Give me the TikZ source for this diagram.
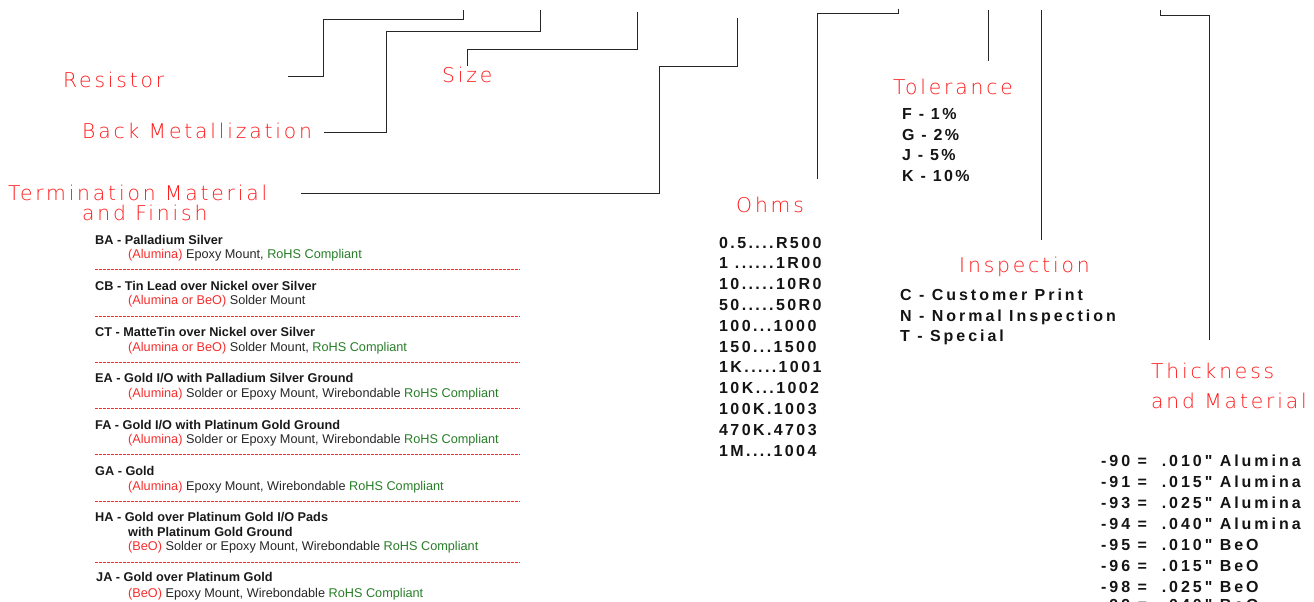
\documentclass[tikz,border=0pt]{standalone}
\usepackage{fontspec}
\setmainfont{Liberation Sans}
\newfontfamily\cadfont{DejaVu Sans ExtraLight}[LetterSpace=14]
\newfontfamily\boldsp{Liberation Sans}[LetterSpace=15]
\newfontfamily\boldwide{Liberation Sans}[LetterSpace=18.5]
\definecolor{cadred}{RGB}{255,25,25}
\definecolor{txtred}{RGB}{245,45,45}
\definecolor{rohs}{RGB}{40,125,40}
\tikzset{
  cad/.style={font=\cadfont\fontsize{20.3}{24}\selectfont, text=cadred, inner sep=0pt, anchor=base west},
  code/.style={font=\boldsp\bfseries\fontsize{16}{19}\selectfont, text=black!92, inner sep=0pt, anchor=base west},
  codew/.style={font=\boldwide\bfseries\fontsize{16}{19}\selectfont, text=black!92, inner sep=0pt, anchor=base west},
  hdr/.style={font=\bfseries\fontsize{12.7}{14}\selectfont, text=black!90, inner sep=0pt, anchor=base west},
  dsc/.style={font=\fontsize{12.7}{14}\selectfont, text=black!85, inner sep=0pt, anchor=base west},
  sep/.style={draw=txtred, line width=0.6pt, dash pattern=on 2.6pt off 1.4pt},
  lead/.style={draw=black!85, line width=0.9pt},
}
\newcommand{\al}[1]{\textcolor{txtred}{#1}}
\newcommand{\rh}[1]{\textcolor{rohs}{#1}}
\begin{document}
\begin{tikzpicture}[x=1pt,y=-1pt]
\useasboundingbox (0,0) rectangle (1314,602);
\clip (0,0) rectangle (1314,602);

% ---------- red CAD labels ----------
\node[cad] (resistor) at (63,87) {Resistor};
\node[cad] (backmet) at (82,138) {Back Metallization};
\node[cad] (size) at (442,82) {Size};
\node[cad] (term) at (8,200) {Termination Material};
\node[cad] (term2) at (82,220) {and Finish};
\node[cad] (tol) at (893,94) {Tolerance};
\node[cad] (ohms) at (736,212) {Ohms};
\node[cad] (insp) at (959,272) {Inspection};
\node[cad] (thick) at (1151,378) {Thickness};
\node[cad] (thick2) at (1151,408) {and Material};

% ---------- leader lines ----------
\coordinate (rA) at (288,76);  \coordinate (rZ) at (463,10);
\coordinate (bA) at (324,132); \coordinate (bZ) at (540,10);
\coordinate (sA) at (467,66);  \coordinate (sZ) at (637,12);
\coordinate (tA) at (301,193); \coordinate (tZ) at (737,18);
\coordinate (oA) at (817,179); \coordinate (oZ) at (898,9);
\coordinate (lA) at (988,61);  \coordinate (lZ) at (988,10);
\coordinate (iA) at (1041,240); \coordinate (iZ) at (1041,10);
\coordinate (kA) at (1209,340); \coordinate (kZ) at (1160,10);

\draw[lead] (rA) -- (323,76) -- (323,19) -- (463,19) -- (rZ);
\draw[lead] (bA) -- (386,132) -- (386,31) -- (540,31) -- (bZ);
\draw[lead] (sA) -- (467,49) -- (637,49) -- (sZ);
\draw[lead] (tA) -- (659,193) -- (659,66) -- (737,66) -- (tZ);
\draw[lead] (oA) -- (817,13) -- (898,13) -- (oZ);
\draw[lead] (lA) -- (lZ);
\draw[lead] (iA) -- (iZ);
\draw[lead] (kA) -- (1209,15) -- (1160,15) -- (kZ);

% ---------- Tolerance ----------
\node[code] (tF) at (902,119) {F - 1\%};
\node[code] (tG) at (902,140) {G - 2\%};
\node[code] (tJ) at (902,160) {J - 5\%};
\node[code] (tK) at (902,181) {K - 10\%};

% ---------- Ohms ----------
\node[code] (o1) at (719,248) {0.5....R500};
\node[code] (o2) at (719,268.8) {1\ ......1R00};
\node[code] (o3) at (719,289.6) {10.....10R0};
\node[code] (o4) at (719,310.4) {50.....50R0};
\node[code] (o5) at (719,331.2) {100...1000};
\node[code] (o6) at (719,352) {150...1500};
\node[code] (o7) at (719,372.8) {1K.....1001};
\node[code] (o8) at (719,393.6) {10K...1002};
\node[code] (o9) at (719,414.4) {100K.1003};
\node[code] (o10) at (719,435.2) {470K.4703};
\node[code] (o11) at (719,456) {1M....1004};

% ---------- Inspection ----------
\node[codew] (iC) at (900,300) {C - Customer Print};
\node[codew] (iN) at (900,321) {N - Normal Inspection};
\node[codew] (iT) at (900,341) {T - Special};

% ---------- Thickness ----------
\node[codew] (k90) at (1101,466) {-90 =\ \ .010" Alumina};
\node[codew] (k91) at (1101,487) {-91 =\ \ .015" Alumina};
\node[codew] (k93) at (1101,508) {-93 =\ \ .025" Alumina};
\node[codew] (k94) at (1101,529) {-94 =\ \ .040" Alumina};
\node[codew] (k95) at (1101,550) {-95 =\ \ .010" BeO};
\node[codew] (k96) at (1101,571) {-96 =\ \ .015" BeO};
\node[codew] (k98) at (1101,592) {-98 =\ \ .025" BeO};
\node[codew] (k99) at (1101,610) {-99 =\ \ .040" BeO};

% ---------- Termination list ----------
\node[hdr] (hBA) at (95,244) {BA - Palladium Silver};
\node[dsc] (dBA) at (128,258.5) {\al{(Alumina)} Epoxy Mount, \rh{RoHS Compliant}};
\draw[sep] (95,269.5) -- (520,269.5);

\node[hdr] (hCB) at (95,290.3) {CB - Tin Lead over Nickel over Silver};
\node[dsc] (dCB) at (128,304.8) {\al{(Alumina or BeO)} Solder Mount};
\draw[sep] (95,315.8) -- (520,315.8);

\node[hdr] (hCT) at (95,336.6) {CT - MatteTin over Nickel over Silver};
\node[dsc] (dCT) at (128,351.1) {\al{(Alumina or BeO)} Solder Mount, \rh{RoHS Compliant}};
\draw[sep] (95,362.1) -- (520,362.1);

\node[hdr] (hEA) at (95,382.9) {EA - Gold I/O with Palladium Silver Ground};
\node[dsc] (dEA) at (128,397.4) {\al{(Alumina)} Solder or Epoxy Mount, Wirebondable \rh{RoHS Compliant}};
\draw[sep] (95,408.4) -- (520,408.4);

\node[hdr] (hFA) at (95,429.2) {FA - Gold I/O with Platinum Gold Ground};
\node[dsc] (dFA) at (128,443.7) {\al{(Alumina)} Solder or Epoxy Mount, Wirebondable \rh{RoHS Compliant}};
\draw[sep] (95,454.7) -- (520,454.7);

\node[hdr] (hGA) at (95,475.5) {GA - Gold};
\node[dsc] (dGA) at (128,490) {\al{(Alumina)} Epoxy Mount, Wirebondable \rh{RoHS Compliant}};
\draw[sep] (95,501) -- (520,501);

\node[hdr] (hHA) at (95,521.8) {HA - Gold over Platinum Gold I/O Pads};
\node[hdr] (hHA2) at (128,536.3) {with Platinum Gold Ground};
\node[dsc] (dHA) at (128,550.8) {\al{(BeO)} Solder or Epoxy Mount, Wirebondable \rh{RoHS Compliant}};
\draw[sep] (95,562.5) -- (520,562.5);

\node[hdr] (hJA) at (96,581.5) {JA - Gold over Platinum Gold};
\node[dsc] (dJA) at (128,597) {\al{(BeO)} Epoxy Mount, Wirebondable \rh{RoHS Compliant}};
\end{tikzpicture}
\end{document}
